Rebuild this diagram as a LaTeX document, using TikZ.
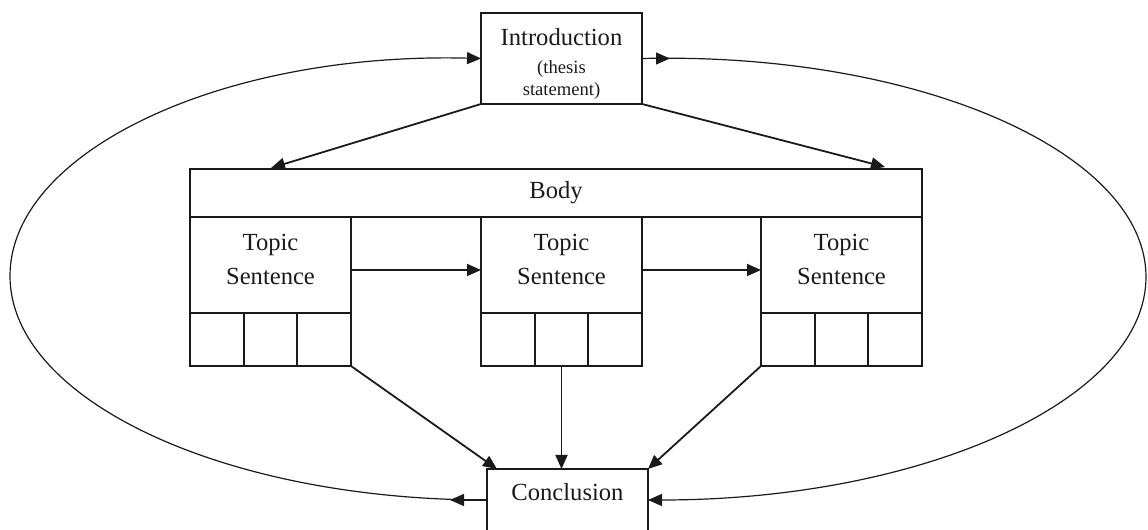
\documentclass[tikz,border=0pt]{standalone}
\usepackage{fontspec}
\setmainfont{Liberation Serif}
\usetikzlibrary{calc,arrows.meta}
\definecolor{ink}{HTML}{1A1A1A}
\newcommand{\subsize}{\fontsize{9.3}{10.5}\selectfont}
\newcommand{\lift}[1]{\rule[-#1]{0pt}{0pt}}
\tikzset{
  box/.style={draw=ink, line width=0.9pt, rectangle, minimum width=80.5pt, inner sep=0pt, outer sep=0pt, align=center, text=ink, font=\fontsize{12.3}{17}\selectfont},
  cell/.style={draw=ink, line width=0.9pt, minimum width=26.83pt, minimum height=26.5pt, inner sep=0pt, outer sep=0pt},
  arr/.style={draw=ink, line width=0.9pt, -{Triangle[length=7pt,width=6pt]}},
  loopline/.style={draw=ink, line width=0.6pt, -{Triangle[length=7pt,width=6pt]}}
}

\begin{document}
\begin{tikzpicture}[x=0.5pt,y=0.5pt]
  \useasboundingbox (0,0) rectangle (1148,530);
  \clip (0,0) rectangle (1148,530);
  \node[box, minimum height=45.5pt] (intro) at (561.5,471.5) {\rule{0pt}{13.5pt}Introduction\\[-3pt]\subsize (thesis\\[-6pt]\subsize statement)};
  \node[box, minimum width=366pt, minimum height=24pt] (body) at (556,337) {Body};
  \foreach \b/\x in {1/270.5,2/561.5,3/841.5}{
    \node[box, minimum height=48pt] (t\b) at (\x,265) {Topic\\Sentence\lift{6pt}};
    \foreach \i in {1,2,3}{
      \node[cell] (c\b\i) at ({\x-80.5+(\i-0.5)*53.67},190.5) {};
    }
  }
  \node[box, minimum height=31pt] (concl) at (567.5,30) {Conclusion\lift{8pt}};
  \coordinate (bodyl) at (271,362);
  \coordinate (bodyr) at (885,363);
  \draw[arr] (intro.south west) -- (bodyl);
  \draw[arr] (intro.south east) -- (bodyr);
  \draw[arr] ([yshift=-2.5pt]t1.east) -- ([yshift=-2.5pt]t2.west);
  \draw[arr] ([yshift=-2.5pt]t2.east) -- ([yshift=-2.5pt]t3.west);
  \draw[arr] (c13.south east) -- ([xshift=5pt]concl.north west);
  \draw[arr] (c22.south) -- (c22.south |- concl.north);
  \draw[arr] (c31.south west) -- (concl.north east);
  % loops round the body
  \draw[loopline] (concl.west) .. controls (224,30) and (10,130) .. (10,254)
    .. controls (10,378) and (221,478) .. (intro.west);
  \draw[loopline] (concl.west) -- ++(-37,0);
  \draw[loopline] (intro.east) .. controls (920,478) and (1146,377) .. (1146,253)
    .. controls (1146,130) and (923,30) .. (concl.east);
  \draw[loopline] (intro.east) -- ++(28,0);
\end{tikzpicture}
\end{document}
